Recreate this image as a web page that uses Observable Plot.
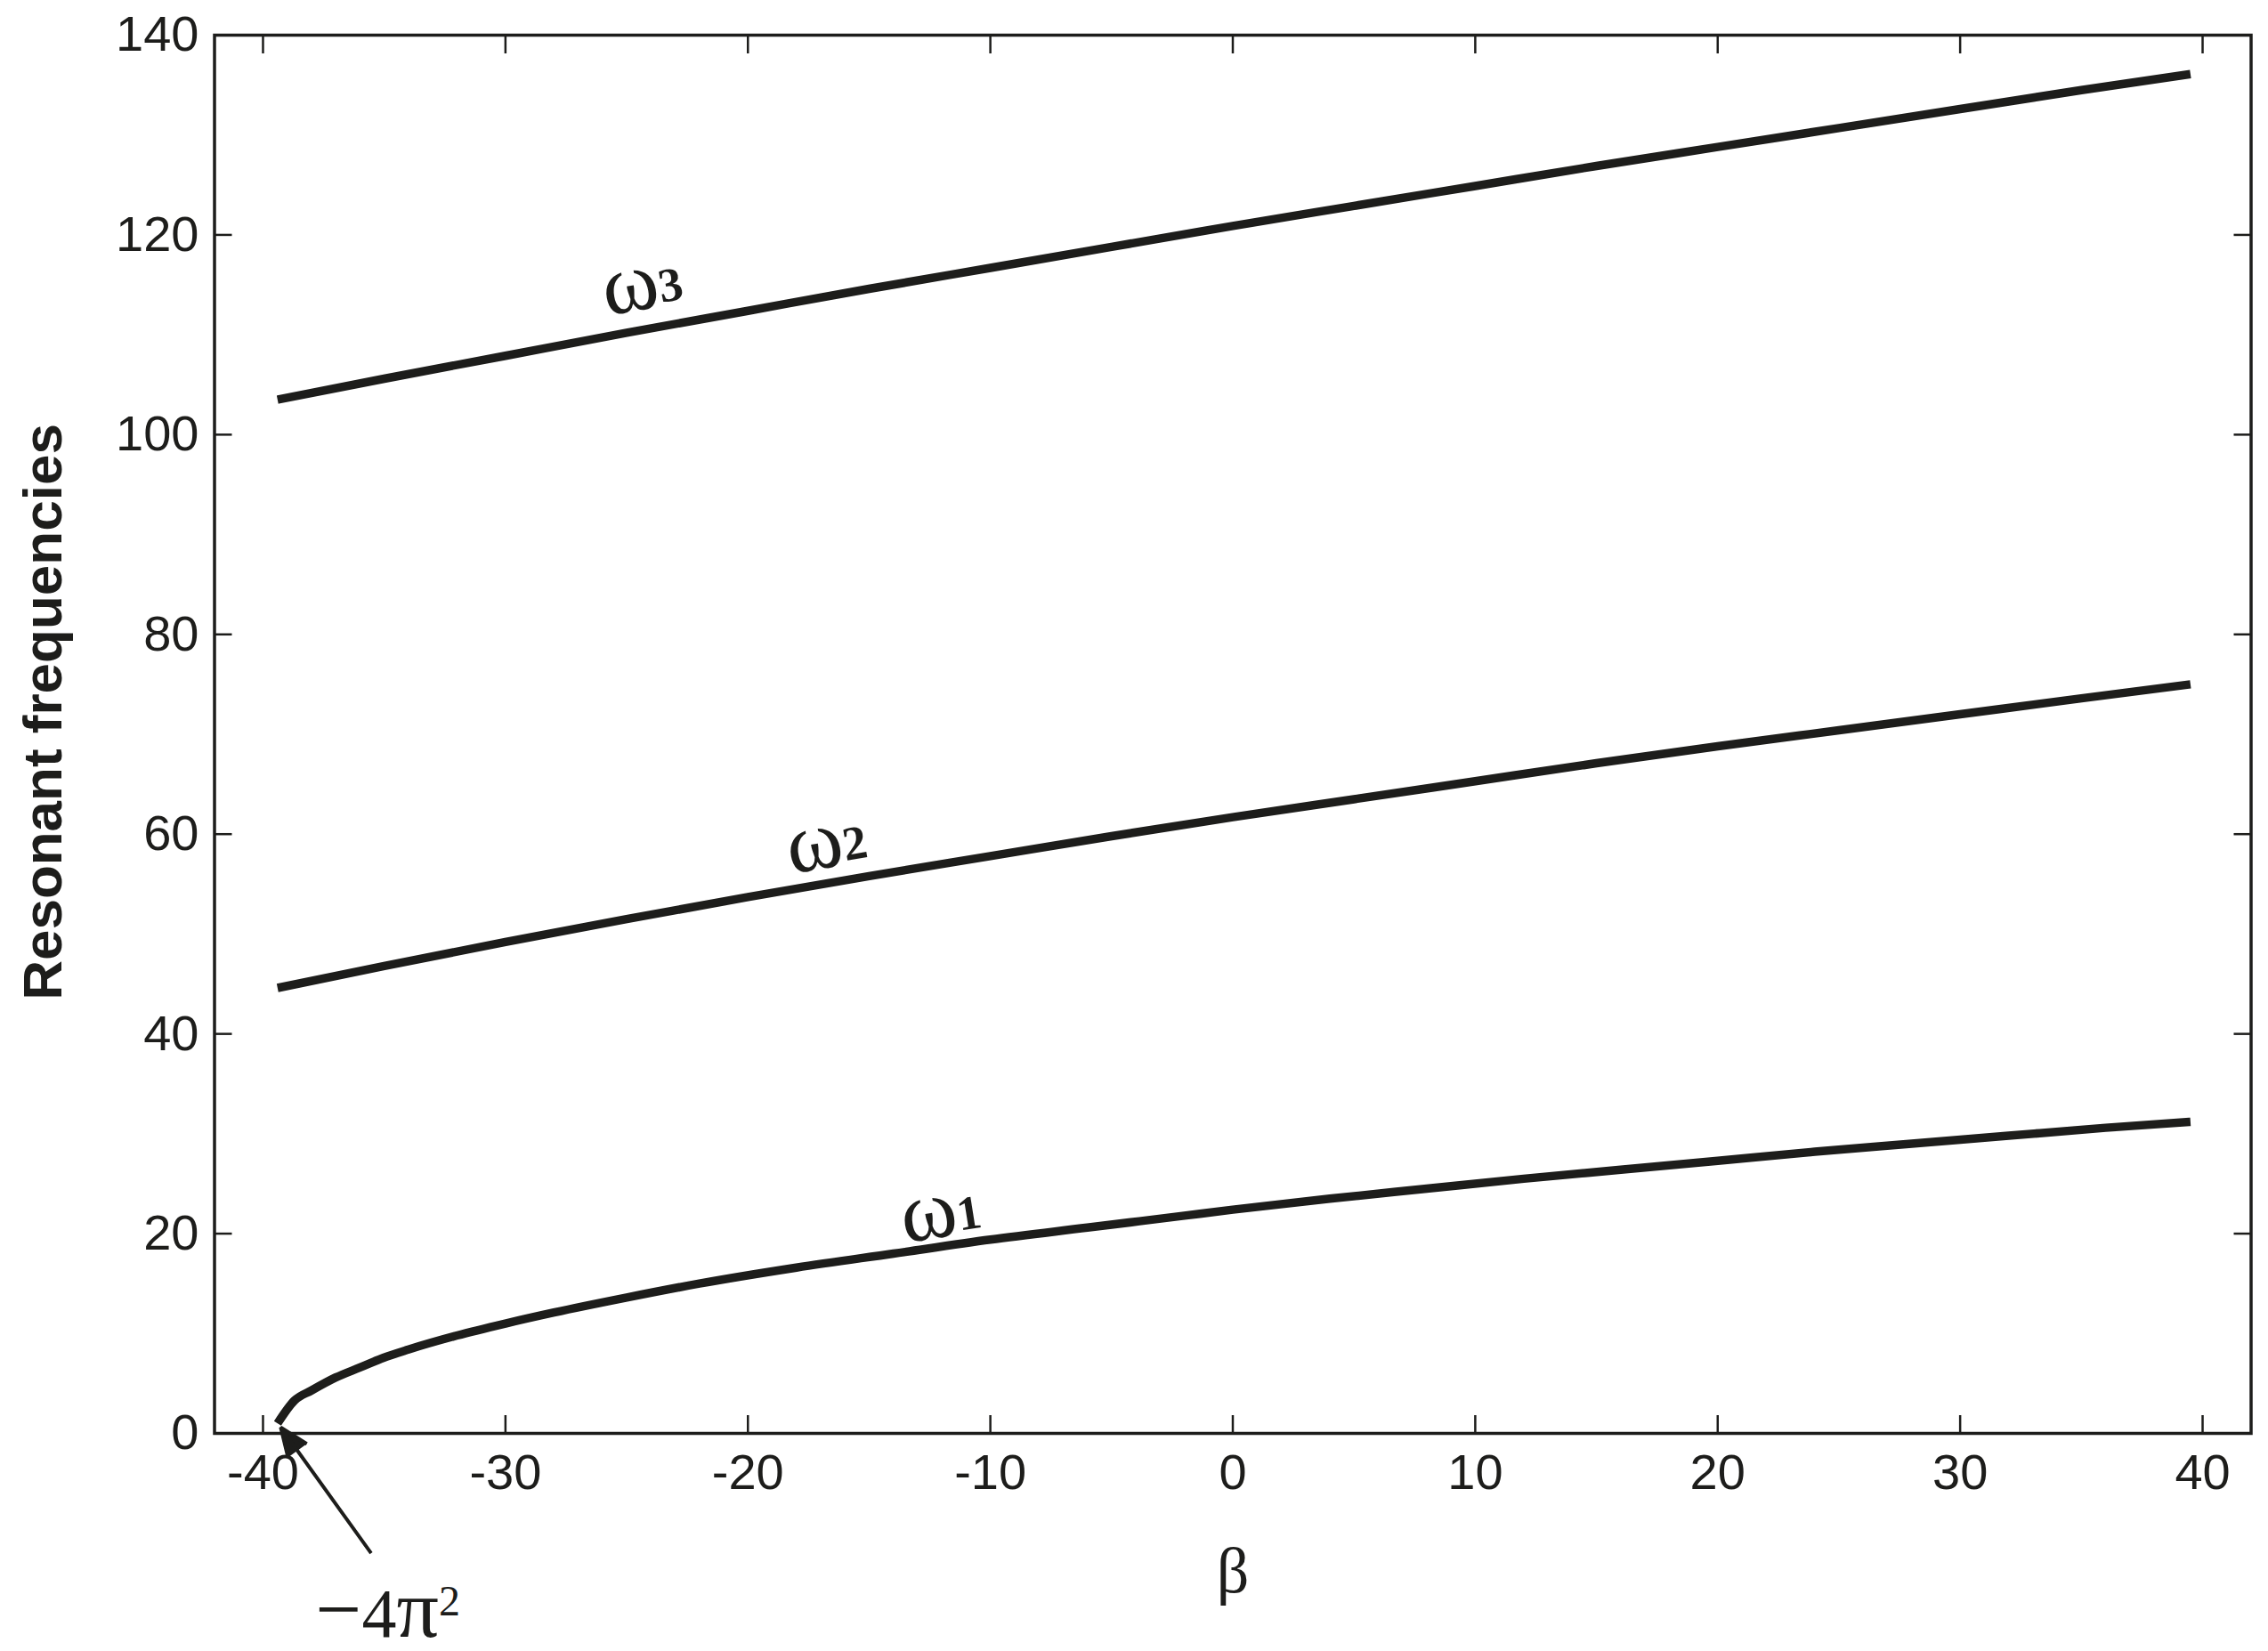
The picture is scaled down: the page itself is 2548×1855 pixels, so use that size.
<!DOCTYPE html>
<html>
<head>
<meta charset="utf-8">
<script src="https://cdn.jsdelivr.net/npm/d3@7"></script>
<script src="https://cdn.jsdelivr.net/npm/@observablehq/plot@0.6"></script>
<style>
  html, body { margin: 0; padding: 0; background: #ffffff; }
  #chart svg { display: block; overflow: visible; }
</style>
</head>
<body>
<div id="chart"></div>
<script>
// ---- Data ----
const xTicks = [-40, -30, -20, -10, 0, 10, 20, 30, 40];
const yTicks = [0, 20, 40, 60, 80, 100, 120, 140];

// first resonant frequency (starts at the buckling load beta = -4*pi^2)
const beta1  = [-39.4, -38.7, -38, -37, -36, -35, -34, -32, -30, -28, -25, -22, -18, -14, -10, -6, -2, 0, 4, 8, 12, 16, 20, 24, 28, 32, 36, 39.5];
const omega1 = [1.0, 3.3, 4.3, 5.6, 6.6, 7.6, 8.4, 9.8, 11.0, 12.1, 13.6, 15.0, 16.6, 18.0, 19.4, 20.6, 21.8, 22.4, 23.5, 24.5, 25.5, 26.4, 27.3, 28.2, 29.0, 29.8, 30.6, 31.2];

// second and third resonant frequencies
const beta23 = [-39.4, -35, -30, -25, -20, -15, -10, -5, 0, 5, 10, 15, 20, 25, 30, 35, 39.5];
const omega2 = [44.6, 46.8, 49.2, 51.5, 53.7, 55.8, 57.8, 59.8, 61.7, 63.5, 65.3, 67.1, 68.8, 70.4, 72.0, 73.6, 75.0];
const omega3 = [103.5, 105.6, 107.9, 110.2, 112.4, 114.6, 116.7, 118.8, 120.9, 122.9, 124.9, 126.9, 128.8, 130.7, 132.6, 134.5, 136.1];

// curve labels
const labelText   = ["ω1", "ω2", "ω3"];
const labelBeta   = [-11.9, -16.6, -24.2];
const labelOmega  = [19.7, 56.7, 112.6];
const labelRotate = [-9, -10, -10];

// annotation of the buckling load
const annoText  = ["−4π²"];
const annoBeta  = [-37.83];
const annoOmega = [-20.4];
const arrowFromBeta = [-35.54], arrowFromOmega = [-12.0];
const arrowToBeta   = [-39.27], arrowToOmega   = [0.6];

const xLabel = "β";
const yLabel = "Resonant frequencies";

// ---- Build tables ----
const ink = "#1d1d1b";
const serif = "'Liberation Serif', 'Times New Roman', serif";
const series = [
  ...beta1.map((b, i) => ({beta: b, omega: omega1[i], mode: "ω1"})),
  ...beta23.map((b, i) => ({beta: b, omega: omega2[i], mode: "ω2"})),
  ...beta23.map((b, i) => ({beta: b, omega: omega3[i], mode: "ω3"}))
];
const labels = labelText.map((t, i) => ({text: t, beta: labelBeta[i], omega: labelOmega[i], rotate: labelRotate[i]}));
const anno = annoText.map((t, i) => ({text: t, beta: annoBeta[i], omega: annoOmega[i]}));
const arrows = arrowFromBeta.map((b, i) => ({x1: b, y1: arrowFromOmega[i], x2: arrowToBeta[i], y2: arrowToOmega[i]}));

const chart = Plot.plot({
  width: 2548,
  height: 1855,
  marginLeft: 240.5,
  marginRight: 19.5,
  marginTop: 39,
  marginBottom: 245,
  style: {
    fontFamily: "'Liberation Sans', Arial, sans-serif",
    fontSize: "56px",
    color: ink,
    background: "#ffffff"
  },
  x: {domain: [-42, 42]},
  y: {domain: [0, 140]},
  marks: [
    Plot.axisX({ticks: xTicks, anchor: "bottom", tickSize: -20, tickPadding: 43, tickFormat: d => String(d), label: null, strokeWidth: 2.5, fontSize: 56}),
    Plot.axisX({ticks: xTicks, anchor: "top", tickSize: -20, tickFormat: () => "", label: null, strokeWidth: 2.5}),
    Plot.axisY({ticks: yTicks, anchor: "left", tickSize: -20, tickPadding: 37.5, tickFormat: d => String(d), label: null, strokeWidth: 2.5, fontSize: 56}),
    Plot.axisY({ticks: yTicks, anchor: "right", tickSize: -20, tickFormat: () => "", label: null, strokeWidth: 2.5}),
    Plot.frame({stroke: ink, strokeWidth: 3.5}),
    Plot.line(series, {x: "beta", y: "omega", z: "mode", stroke: ink, strokeWidth: 9.5, curve: "monotone-x", strokeLinecap: "butt", strokeLinejoin: "round"}),
    Plot.text(labels, {x: "beta", y: "omega", text: "text", rotate: "rotate", fontFamily: serif, fontSize: 88, textAnchor: "middle", lineAnchor: "bottom", fill: ink, ariaLabel: "omega-label"}),
    Plot.arrow(arrows, {x1: "x1", y1: "y1", x2: "x2", y2: "y2", stroke: ink, fill: ink, strokeWidth: 4, headLength: 13, headAngle: 44, strokeLinejoin: "miter", strokeLinecap: "butt"}),
    Plot.text(anno, {x: "beta", y: "omega", text: "text", fontFamily: serif, fontSize: 78, textAnchor: "start", lineAnchor: "bottom", fill: ink, ariaLabel: "anno-label"}),
    Plot.text([xLabel], {frameAnchor: "bottom", text: d => d, dy: 178, fontFamily: serif, fontSize: 72, lineAnchor: "bottom", fill: ink}),
    Plot.text([yLabel], {frameAnchor: "left", text: d => d, rotate: -90, dx: -192, dy: -25, fontWeight: "bold", fontSize: 62, textAnchor: "middle", lineAnchor: "middle", fill: ink})
  ]
});

// ---- typographic touch-ups of the label texts (mixed sizes) ----
const ns = "http://www.w3.org/2000/svg";
function span(str, size, weight, dy) {
  const s = document.createElementNS(ns, "tspan");
  s.textContent = str;
  s.style.fontSize = size + "px";
  if (weight) s.style.fontWeight = weight;
  if (dy) s.setAttribute("dy", dy);
  return s;
}
chart.querySelectorAll("text").forEach(t => {
  const s = t.textContent;
  if (/^ω\d$/.test(s)) {
    t.textContent = "";
    t.append(span("ω", 96, null, null), span(s.slice(1), 54, "bold", "-4"));
  } else if (s === annoText[0]) {
    t.textContent = "";
    const chars = [...s];
    t.append(
      span(chars[0], 92, null, null),
      span(chars[1], 78, null, null),
      span(chars[2], 94, null, null),
      span("2", 48, null, "-24")
    );
  }
});

document.getElementById("chart").append(chart);
</script>
</body>
</html>
